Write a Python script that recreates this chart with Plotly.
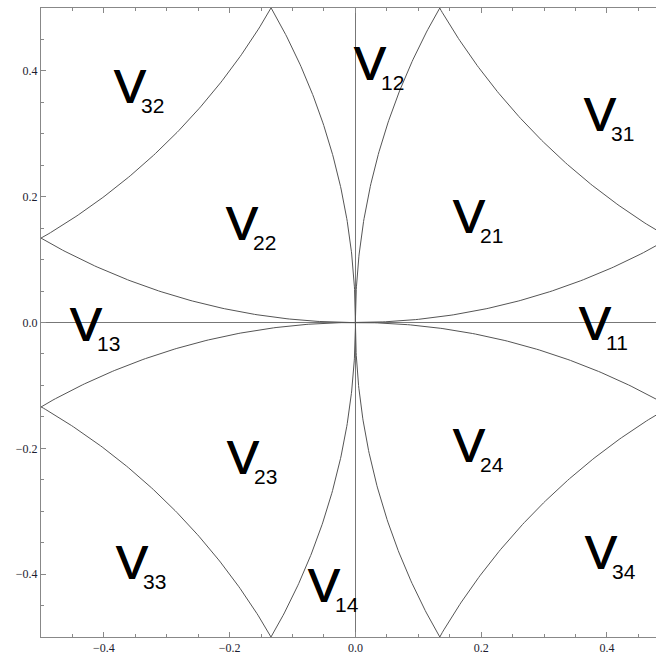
import numpy as np
import plotly.graph_objects as go

# Unit circles bounding the regions (centres in data units)
circle_cx = [1, -1, 0, 0, 1, 1, -1, -1]
circle_cy = [0, 0, 1, -1, 1, -1, 1, -1]
radius = 1.0

# Region labels V_ij and where they sit
label_sub = ["12", "32", "31", "22", "21", "13", "11", "23", "24", "33", "14", "34"]
label_x = [0.020, -0.361, 0.386, -0.184, 0.177, -0.432, 0.378, -0.182, 0.177, -0.359, -0.053, 0.387]
label_y = [0.408, 0.372, 0.327, 0.154, 0.165, -0.007, -0.005, -0.218, -0.198, -0.385, -0.422, -0.369]

fig = go.Figure()

t = np.linspace(0, 2 * np.pi, 1441)
for cx, cy in zip(circle_cx, circle_cy):
    fig.add_trace(go.Scatter(
        x=cx + radius * np.cos(t), y=cy + radius * np.sin(t),
        mode="lines", line=dict(color="#555555", width=1),
        hoverinfo="skip", showlegend=False,
    ))

# Each label: a large "V" with its index tucked in as a subscript
for s, lx, ly in zip(label_sub, label_x, label_y):
    fig.add_annotation(
        x=lx, y=ly, showarrow=False,
        text=("<span style='font-size:48px;letter-spacing:-5px'>V</span>"
              f"<sub><span style='font-size:21px;text-shadow:none'>{s}</span></sub>"),
        xanchor="left", yanchor="middle", xshift=-16,
        font=dict(family="Liberation Sans", size=48, color="black",
                  shadow="0.6px 0px 0px black, -0.6px 0px 0px black"),
    )

axis_common = dict(
    showgrid=False,
    zeroline=True, zerolinecolor="#777777", zerolinewidth=1,
    showline=True, linecolor="#888888", linewidth=1,
    ticks="inside", ticklen=5, tickcolor="#888888", tickwidth=1,
    tick0=0, dtick=0.2, tickformat=".1f",
    minor=dict(ticks="inside", dtick=0.05, ticklen=3, tickcolor="#888888", tickwidth=1),
    tickfont=dict(family="Liberation Serif", size=12, color="#1c1c30"),
)

fig.update_xaxes(range=[-0.5, 0.478], mirror="ticks", **axis_common)
fig.update_yaxes(range=[-0.5, 0.5], mirror=False, **axis_common)

fig.update_layout(
    width=656, height=656,
    margin=dict(l=41, r=0, t=8, b=19),
    paper_bgcolor="white", plot_bgcolor="white",
    showlegend=False,
)

fig.write_html("out.html")
